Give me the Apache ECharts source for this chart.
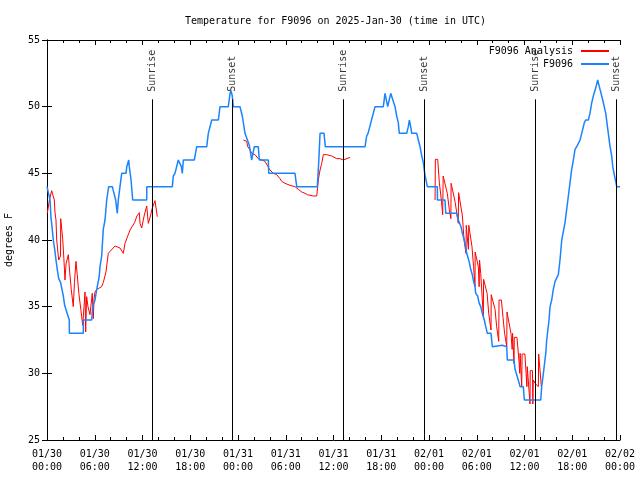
<!DOCTYPE html>
<html>
<head>
<meta charset="utf-8">
<script src="https://cdn.jsdelivr.net/npm/echarts@6/dist/echarts.min.js"></script>
<style>html,body{margin:0;padding:0;background:#fff}#c{width:640px;height:480px}</style>
</head>
<body>
<div id="c"></div>
<script>
// time in hours since 2025-01-30 00:00 UTC
const observed = [[0.0,44],[0.13,44],[0.38,43],[0.5,41.7],[0.63,41],[0.79,40],[0.97,39.3],[1.13,38.5],[1.29,37.8],[1.47,37.1],[1.72,36.8],[1.88,36.3],[2.05,35.8],[2.22,35.1],[2.48,34.6],[2.8,34],[2.81,33],[4.56,33],[4.57,34],[5.62,34],[5.74,35],[6.03,35.5],[6.25,36.3],[6.57,37.3],[6.66,38],[6.87,38.8],[7.07,40.8],[7.29,41.5],[7.5,43],[7.75,44],[8.21,44],[8.33,43.7],[8.63,43],[8.83,42],[8.96,43],[9.17,44],[9.39,45],[9.93,45],[10.02,45.5],[10.27,46],[10.34,45.5],[10.56,44.5],[10.77,43],[12.53,43],[12.54,44],[15.75,44],[15.87,44.8],[16.08,45],[16.5,46],[16.75,46],[16.88,45.5],[17.0,45],[17.13,46],[18.51,46],[18.81,47],[20.07,47],[20.27,48],[20.7,49],[21.53,49],[21.74,50],[22.78,50],[23.0,51],[23.12,51.2],[23.28,50.8],[23.41,50],[24.25,50],[24.54,49.3],[24.88,48],[25.42,47.1],[25.72,46],[25.92,46],[26.05,47],[26.55,47],[26.68,46],[27.81,46],[27.86,45],[31.16,45],[31.38,44],[33.97,44],[34.14,45.8],[34.31,48],[34.81,48],[34.97,47],[39.96,47],[40.17,47.8],[40.34,48],[40.78,49],[41.22,50],[42.26,50],[42.47,51],[42.69,51],[42.81,50],[43.01,50],[43.19,51],[43.44,51],[43.73,50],[43.94,49.3],[44.14,48.8],[44.27,48],[45.2,48],[45.4,48.5],[45.53,49],[45.7,48.5],[45.83,48],[46.46,48],[46.66,47.5],[46.87,47],[47.09,46.3],[47.29,45.8],[47.46,45],[47.79,44],[49.05,44],[49.06,43],[50.01,43],[50.1,42],[51.48,42],[51.68,41.5],[52.02,41],[52.19,40.5],[52.44,40],[52.61,39.5],[52.74,39],[52.94,38.6],[53.07,38.3],[53.24,37.8],[53.44,37.4],[53.57,37],[53.78,36.5],[53.87,36],[54.12,35.8],[54.28,35.3],[54.5,35],[54.7,34.5],[54.95,34],[55.13,33.5],[55.33,33],[55.79,33],[55.96,32],[57.21,32.1],[57.77,32],[57.84,31],[58.68,31],[58.81,30.3],[59.02,29.9],[59.22,29.5],[59.44,29],[59.85,29],[59.98,28],[62.04,28],[62.16,29],[62.37,30],[62.67,31.5],[62.79,32.5],[63.08,34],[63.21,35],[63.42,35.5],[63.62,36.3],[63.84,36.9],[64.25,37.4],[64.46,38.5],[64.68,40],[64.88,40.1],[65.09,41.3],[65.3,42.3],[65.51,43.3],[65.72,44.3],[65.93,45.3],[66.14,46],[66.35,46.8],[66.56,47],[66.98,47.5],[67.19,48],[67.39,48.1],[67.52,48.8],[67.69,49],[68.02,49],[68.23,49.5],[68.45,50.3],[68.65,50.8],[68.99,51.5],[69.2,52],[69.28,51.8],[69.49,51.3],[69.83,50.5],[70.21,49.5],[70.53,48],[70.75,47],[70.96,46.3],[71.09,45.5],[71.25,45],[71.5,45],[71.59,44],[72,44]];

const analysisDay1 = [[0.04,42.0],[0.30,43.0],[0.59,43.7],[0.80,43.7],[0.92,43.0],[1.00,42.1],[1.13,41.5],[1.22,40.0],[1.47,38.5],[1.70,38.8],[1.72,41.6],[1.85,41.6],[1.97,40.1],[2.13,38.5],[2.26,37.0],[2.39,38.2],[2.68,38.9],[2.85,37.6],[3.05,36.3],[3.30,35.0],[3.45,36.8],[3.64,38.4],[3.80,37.4],[4.00,36.0],[4.25,34.8],[4.49,33.6],[4.65,35.0],[4.78,36.1],[4.86,33.1],[4.98,35.75],[5.15,35.0],[5.40,34.4],[5.69,36.0],[5.82,34.1],[5.91,35.6],[6.03,36.1],[6.25,36.3],[6.57,36.4],[6.87,36.5],[7.07,36.8],[7.41,37.6],[7.70,39.0],[8.55,39.55],[9.17,39.4],[9.59,39.0],[9.80,39.75],[10.43,40.75],[10.64,40.9],[11.0,41.3],[11.3,41.8],[11.60,42.05],[11.69,41.25],[11.90,40.9],[12.2,41.8],[12.53,42.55],[12.73,41.25],[13.0,41.8],[13.16,42.25],[13.36,42.6],[13.57,42.95],[13.86,41.75]];

const analysisDay2 = [[24.67,47.5],[25.09,47.4],[25.22,47.0],[25.51,46.75],[25.72,46.5],[26.14,46.4],[26.55,46.1],[26.77,45.95],[27.39,45.9],[27.61,45.75],[28.02,45.25],[28.44,45.0],[28.86,44.9],[29.28,44.6],[29.49,44.4],[29.91,44.25],[30.54,44.1],[31.16,44.0],[31.58,43.8],[32.01,43.6],[32.42,43.5],[32.71,43.4],[33.46,43.3],[33.89,43.3],[33.97,43.75],[34.09,44.5],[34.31,45.25],[34.52,45.75],[34.72,46.4],[35.15,46.4],[35.78,46.3],[35.98,46.25],[36.40,46.1],[36.82,46.1],[37.23,46.0],[37.45,46.1],[38.07,46.2]];

const analysisDay3 = [[48.76,43.0],[48.80,46.05],[49.09,46.05],[49.3,44.3],[49.55,43.0],[49.72,41.9],[49.78,44.8],[50.0,44.8],[50.3,43.5],[50.55,42.3],[50.75,41.6],[50.78,44.25],[51.0,44.25],[51.3,42.8],[51.68,41.25],[51.72,43.55],[51.9,43.55],[52.2,41.8],[52.4,40.0],[52.65,39.0],[52.68,41.1],[52.85,41.1],[52.95,39.3],[53.0,41.1],[53.15,41.1],[53.4,39.5],[53.6,38.0],[53.78,36.5],[53.8,39.1],[54.0,39.1],[54.2,38.0],[54.3,36.5],[54.35,38.5],[54.5,37.5],[54.7,35.5],[54.83,34.25],[54.86,37.05],[55.1,37.05],[55.3,36.0],[55.5,34.5],[55.79,33.25],[55.82,35.9],[56.05,35.9],[56.3,34.8],[56.5,33.5],[56.76,32.4],[56.8,35.5],[57.1,35.5],[57.3,34.2],[57.5,33.0],[57.77,32.0],[57.8,34.6],[58.05,34.6],[58.3,33.0],[58.45,31.8],[58.5,33.0],[58.68,30.75],[58.72,32.7],[59.05,32.7],[59.3,31.0],[59.4,30.0],[59.45,31.5],[59.65,29.0],[59.7,31.45],[60.05,31.45],[60.2,30.0],[60.3,29.0],[60.35,30.5],[60.69,27.7],[60.72,30.2],[61.0,30.2],[61.05,27.7],[61.1,29.5],[61.4,29.2],[61.74,29.0],[61.78,31.45],[62.02,31.45],[62.12,29.0]];

const sunTimes = [13.23, 23.29, 37.24, 47.42, 61.41, 71.59];
const sunNames = ['Sunrise', 'Sunset', 'Sunrise', 'Sunset', 'Sunrise', 'Sunset'];
const sunLineTop = 50.55;

const FONT = 'DejaVu Sans Mono';
const RED = '#ff0000';
const BLUE = '#1a84ff';

function fmtX(h) {
  const day = 30 + Math.floor(h / 24 + 1e-9);
  const hh = Math.round(h - (day - 30) * 24);
  const md = day > 31 ? '02/' + String(day - 31).padStart(2, '0') : '01/' + day;
  return md + '\n' + String(hh).padStart(2, '0') + ':00';
}

const chart = echarts.init(document.getElementById('c'), null, {renderer: 'canvas'});
const axisLine = {show: true, lineStyle: {color: '#000', width: 1}};
const redSeries = (data) => ({
  name: 'F9096 Analysis', type: 'line', data: data, showSymbol: false, symbol: 'none',
  lineStyle: {color: RED, width: 1}, itemStyle: {color: RED}, xAxisIndex: 0, yAxisIndex: 0, z: 3
});
chart.setOption({
  animation: false,
  backgroundColor: '#fff',
  title: {
    text: 'Temperature for F9096 on 2025-Jan-30 (time in UTC)',
    left: 180, top: 11,
    textStyle: {fontFamily: FONT, fontSize: 10, fontWeight: 'normal', color: '#000'}
  },
  legend: {
    data: ['F9096 Analysis', 'F9096'],
    orient: 'vertical', right: 26, top: 40, align: 'right',
    itemWidth: 28, itemHeight: 2, itemGap: 1, icon: 'rect',
    textStyle: {fontFamily: FONT, fontSize: 10, color: '#000', lineHeight: 12, padding: [0, 3, 0, 0]}
  },
  grid: {left: 47, right: 20, top: 40, bottom: 40, outerBoundsMode: 'none', containLabel: false},
  xAxis: [{
    type: 'value', min: 0, max: 72, interval: 6, position: 'bottom',
    axisLine: axisLine,
    axisTick: {show: true, inside: true, length: 5, lineStyle: {color: '#000'}},
    minorTick: {show: true, splitNumber: 3, length: 3, lineStyle: {color: '#000'}},
    splitLine: {show: false},
    axisLabel: {formatter: fmtX, fontFamily: FONT, fontSize: 10, color: '#000', lineHeight: 13, margin: 8, hideOverlap: false}
  }, {
    type: 'value', min: 0, max: 72, interval: 6, position: 'top',
    axisLine: axisLine,
    axisTick: {show: true, inside: true, length: 5, lineStyle: {color: '#000'}},
    minorTick: {show: true, splitNumber: 3, length: 3, lineStyle: {color: '#000'}},
    splitLine: {show: false}, axisLabel: {show: false}
  }],
  yAxis: [{
    type: 'value', min: 25, max: 55, interval: 5, position: 'left',
    name: 'degrees F', nameLocation: 'middle', nameGap: 33, nameRotate: 90,
    nameTextStyle: {fontFamily: FONT, fontSize: 10, color: '#000'},
    axisLine: axisLine,
    axisTick: {show: true, inside: true, length: 5, lineStyle: {color: '#000'}},
    splitLine: {show: false},
    axisLabel: {fontFamily: FONT, fontSize: 10, color: '#000', margin: 7}
  }, {
    type: 'value', min: 25, max: 55, interval: 5, position: 'right',
    axisLine: axisLine,
    axisTick: {show: true, inside: true, length: 5, lineStyle: {color: '#000'}},
    splitLine: {show: false}, axisLabel: {show: false}
  }],
  series: [
    redSeries(analysisDay1),
    redSeries(analysisDay2),
    redSeries(analysisDay3),
    {
      name: 'F9096', type: 'line', data: observed, showSymbol: false, symbol: 'none',
      lineStyle: {color: BLUE, width: 1.5}, itemStyle: {color: BLUE}, z: 4
    },
    {
      name: 'sun', type: 'scatter', symbolSize: 1, itemStyle: {color: 'rgba(0,0,0,0)'},
      data: sunTimes.map((t, i) => [t, sunLineTop, sunNames[i]]),
      label: {
        show: true, position: 'top', distance: 7, rotate: 90, align: 'left', verticalAlign: 'middle',
        formatter: p => p.value[2], fontFamily: FONT, fontSize: 10, color: '#000'
      },
      markLine: {
        silent: true, symbol: ['none', 'none'], animation: false,
        lineStyle: {color: '#000', width: 1, type: 'solid'},
        label: {show: false},
        data: sunTimes.map(t => [{coord: [t, sunLineTop]}, {coord: [t, 25]}])
      },
      z: 5
    }
  ]
});
</script>
</body>
</html>
